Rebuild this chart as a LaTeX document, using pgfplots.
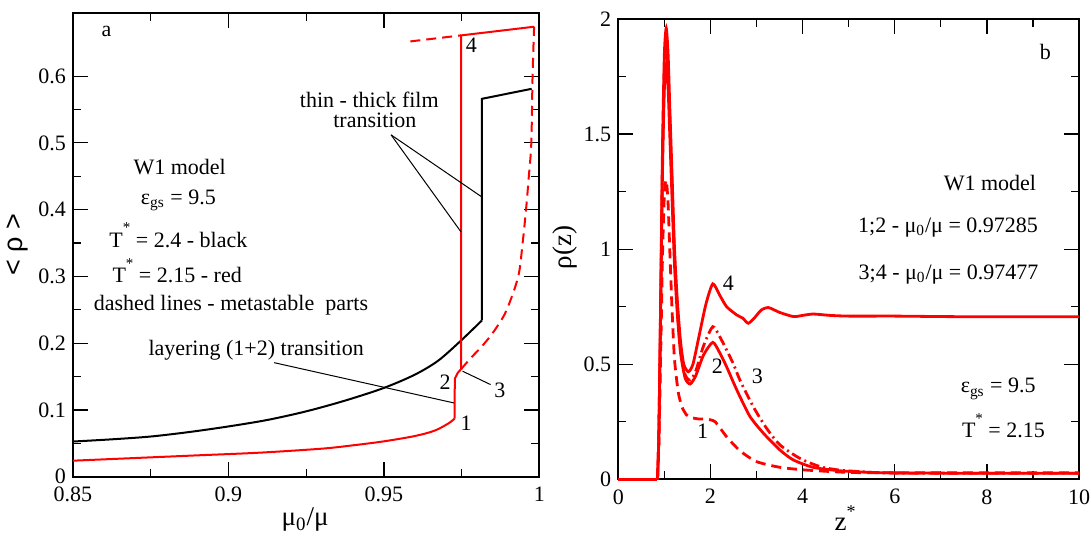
\documentclass[border=0pt]{standalone}
\usepackage{pgfplots}
\pgfplotsset{compat=1.18}
\usepackage{fontspec}
\setmainfont{Liberation Serif}
\newfontfamily\sansgr{Liberation Sans}

\newcommand{\fs}{\fontsize{11}{13}\selectfont}
\newcommand{\fl}{\fontsize{13.5}{15}\selectfont}
\newcommand{\st}{\raisebox{0.65em}{\fontsize{7.5}{8}\selectfont *}}

\pgfplotsset{
  panel/.style={
    scale only axis, clip=false,
    axis line style={line width=1pt},
    tick style={black, line width=0.6pt},
    tick align=inside,
    major tick length=7.5pt, minor tick length=4pt,
    minor x tick num=1, minor y tick num=1,
    /pgf/number format/assume math mode=true,
    tick label style={font=\fs},
    xticklabel style={yshift=-1.5pt},
  },
}
\tikzset{
  txt/.style={font=\fs, anchor=base},
  ann/.style={black, line width=0.5pt},
}

\begin{document}
\begin{tikzpicture}
\path[use as bounding box] (-36.5pt,-30.65pt) rectangle (509pt,238.35pt);

% panel a
\begin{axis}[panel,
  at={(0pt,0pt)}, anchor=south west,
  width=233.2pt, height=232pt,
  xmin=0.85, xmax=1, ymin=0, ymax=0.695,
  xtick={0.85,0.9,0.95,1},
  ytick={0,0.1,0.2,0.3,0.4,0.5,0.6},
]
% T* = 2.4 black
\addplot[black, line width=1pt, smooth, tension=0.5] coordinates {
(0.85,0.0527)(0.8625,0.056)(0.875,0.0602)(0.8875,0.067)(0.9,0.0753)
(0.9125,0.085)(0.925,0.0979)(0.9375,0.114)(0.95,0.133)(0.96,0.153)
(0.9675,0.174)(0.9748,0.204)(0.9815,0.234)
};
\addplot[black, line width=1pt] coordinates {
(0.9815,0.234)(0.9815,0.566)(0.9975,0.581)
};
% T* = 2.15 red, stable
\addplot[red, line width=1pt, smooth, tension=0.5] coordinates {
(0.85,0.024)(0.87,0.028)(0.89,0.032)(0.91,0.036)(0.93,0.042)
(0.94,0.047)(0.95,0.053)(0.96,0.061)(0.9663,0.069)(0.9708,0.080)
(0.9727,0.087)
};
\addplot[red, line width=1pt] coordinates {
(0.9727,0.087)(0.9728,0.147)(0.9738,0.156)(0.9748,0.161)
(0.9748,0.661)(0.9983,0.674)
};
% red, metastable
\addplot[red, line width=1pt, dash pattern=on 5pt off 3pt] coordinates {
(0.9585,0.652)(0.9748,0.661)
};
\addplot[red, line width=1pt, dash pattern=on 5pt off 3pt, smooth, tension=0.5] coordinates {
(0.9748,0.161)(0.9776,0.176)(0.982,0.198)(0.9854,0.218)(0.9893,0.248)
(0.9932,0.300)(0.9946,0.350)(0.9957,0.400)(0.9966,0.450)(0.9974,0.500)
(0.9978,0.600)(0.9983,0.674)
};

\draw[ann] (axis cs:0.9523,0.512) -- (axis cs:0.9815,0.419);
\draw[ann] (axis cs:0.9523,0.512) -- (axis cs:0.9748,0.3666);
\draw[ann] (axis cs:0.9147,0.1708) -- (axis cs:0.9725,0.1105);
\draw[ann] (axis cs:0.9753,0.158) -- (axis cs:0.9843,0.138);

\node[txt] at (axis cs:0.8608,0.660) {a};
\node[txt] at (axis cs:0.8843,0.452) {W1 model};
\node[txt] at (axis cs:0.8839,0.408) {ε\textsubscript{gs} = 9.5};
\node[txt] at (axis cs:0.8839,0.344) {T\st{} = 2.4 - black};
\node[txt] at (axis cs:0.8835,0.291) {T\st{} = 2.15 - red};
\node[txt] at (axis cs:0.9008,0.2485) {dashed lines - metastable\ \ parts};
\node[txt] at (axis cs:0.9089,0.1818) {layering (1+2) transition};
\node[txt] at (axis cs:0.9453,0.553) {thin - thick film};
\node[txt] at (axis cs:0.9471,0.523) {transition};
\node[txt] at (axis cs:0.9781,0.635) {4};
\node[txt] at (axis cs:0.9697,0.1306) {2};
\node[txt] at (axis cs:0.9873,0.118) {3};
\node[txt] at (axis cs:0.9764,0.0693) {1};

\node[font=\sansgr\fl, rotate=90] at (rel axis cs:-0.12,0.5) {<\ ρ\ >};
\node[font=\fl, anchor=base] at (rel axis cs:0.4975,-0.106) {μ\textsubscript{0}/μ};
\end{axis}

% panel b
\begin{axis}[panel,
  at={(272.65pt,-1.3pt)}, anchor=south west,
  width=230.4pt, height=230.2pt,
  xmin=0, xmax=10, ymin=0, ymax=2,
  xtick={0,2,4,6,8,10},
  ytick={0,0.5,1,1.5,2},
]
% common flat part before the wall
\addplot[red, line width=1.4pt] coordinates {(0,0)(0.85,0)};
% 1 : mu0/mu = 0.97285, dashed
\addplot[red, line width=1.4pt, dash pattern=on 5pt off 3pt, smooth, tension=0.4] coordinates {
(0.85,0)(0.88,0.15)(0.92,0.55)(0.96,0.98)(1.0,1.24)(1.04,1.3)
(1.08,1.2)(1.12,0.98)(1.17,0.72)(1.22,0.52)(1.3,0.38)(1.38,0.315)
(1.48,0.28)(1.56,0.269)(1.75,0.262)(1.92,0.261)(2.1,0.25)(2.35,0.185)
(2.64,0.124)(3.0,0.077)(3.51,0.052)(4.09,0.04)(5,0.03)(6,0.028)(8,0.028)(10,0.028)
};
% 2 : mu0/mu = 0.97285, solid
\addplot[red, line width=1.4pt, smooth, tension=0.4] coordinates {
(0.85,0)(0.88,0.2)(0.92,0.75)(0.96,1.35)(1.0,1.7)(1.04,1.8)
(1.08,1.7)(1.12,1.48)(1.17,1.2)(1.22,0.93)(1.28,0.72)(1.35,0.55)
(1.45,0.44)(1.56,0.414)(1.68,0.45)(1.85,0.54)(2.05,0.595)(2.2,0.55)
(2.35,0.489)(2.5,0.42)(2.64,0.359)(2.86,0.272)(3.15,0.2)(3.51,0.127)
(3.8,0.084)(4.23,0.052)(4.81,0.037)(5.5,0.03)(6,0.028)(8,0.026)(10,0.026)
};
% 3 : mu0/mu = 0.97477, dash-dot
\addplot[red, line width=1.4pt, dash pattern=on 5pt off 2pt on 1pt off 2pt, smooth, tension=0.4] coordinates {
(0.85,0)(0.88,0.2)(0.92,0.78)(0.96,1.4)(1.0,1.78)(1.04,1.88)
(1.08,1.78)(1.12,1.55)(1.17,1.25)(1.22,0.96)(1.28,0.74)(1.35,0.57)
(1.45,0.455)(1.56,0.431)(1.68,0.47)(1.85,0.58)(2.05,0.663)(2.2,0.62)
(2.35,0.562)(2.5,0.5)(2.64,0.431)(2.93,0.315)(3.22,0.221)(3.51,0.149)
(3.94,0.091)(4.38,0.055)(4.81,0.04)(5.5,0.03)(6,0.027)(8,0.026)(10,0.026)
};
% 4 : mu0/mu = 0.97477, solid
\addplot[red, line width=1.4pt, smooth, tension=0.4] coordinates {
(0.85,0)(0.88,0.2)(0.92,0.8)(0.96,1.45)(1.0,1.85)(1.04,1.96)
(1.08,1.85)(1.12,1.6)(1.17,1.3)(1.22,1.0)(1.28,0.78)(1.35,0.6)(1.42,0.5)
(1.52,0.467)(1.62,0.5)(1.75,0.62)(1.9,0.76)(2.05,0.849)(2.2,0.8)(2.35,0.75)
(2.57,0.714)(2.7,0.7)(2.82,0.678)(2.95,0.7)(3.1,0.735)(3.26,0.746)(3.5,0.725)
(3.8,0.707)(4.0,0.712)(4.23,0.718)(4.6,0.712)(5,0.709)(6,0.709)(7,0.707)
(8,0.706)(10,0.706)
};

\node[txt] at (axis cs:9.27,1.822) {b};
\node[txt, anchor=base east] at (axis cs:9.22,1.254) {W1 model};
\node[txt, anchor=base east] at (axis cs:9.26,1.073) {1;2 - μ\textsubscript{0}/μ = 0.97285};
\node[txt, anchor=base east] at (axis cs:9.27,0.870) {3;4 - μ\textsubscript{0}/μ = 0.97477};
\node[txt, anchor=base east] at (axis cs:9.21,0.376) {ε\textsubscript{gs} = 9.5};
\node[txt, anchor=base east] at (axis cs:9.41,0.182) {T\st{} = 2.15};
\node[txt] at (axis cs:2.39,0.822) {4};
\node[txt] at (axis cs:2.15,0.4575) {2};
\node[txt] at (axis cs:3.02,0.417) {3};
\node[txt] at (axis cs:1.83,0.178) {1};

\node[font=\fl, rotate=90] at (rel axis cs:-0.1157,0.503) {ρ(z)};
\node[font=\fl, anchor=base] at (rel axis cs:0.492,-0.112) {z\raisebox{0.5em}{\fontsize{9}{10}\selectfont *}};
\end{axis}
\end{tikzpicture}
\end{document}
